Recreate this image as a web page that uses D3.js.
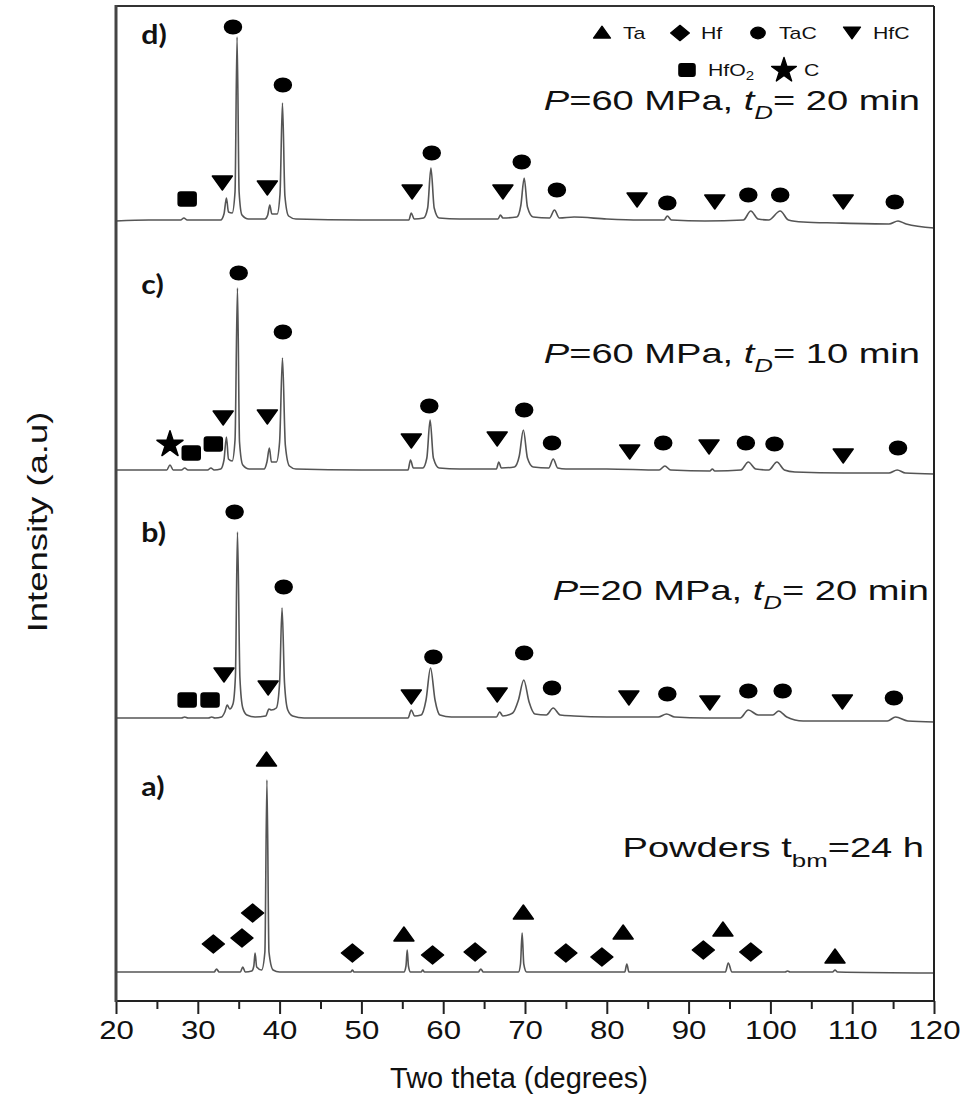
<!DOCTYPE html>
<html>
<head>
<meta charset="utf-8">
<script src="https://cdn.jsdelivr.net/npm/d3@7"></script>
<style>
  body { margin: 0; background: #fff; }
  svg { display: block; }
  text { font-family: "Liberation Sans", Arial, sans-serif; fill: #111; white-space: pre; }
</style>
</head>
<body>
<div id="chart"></div>
<script>
// x axis ticks
var xTicks = [20, 30, 40, 50, 60, 70, 80, 90, 100, 110, 120];
var xMinor = [25, 35, 45, 55, 65, 75, 85, 95, 105, 115];

// one pattern per panel, bottom to top: a, b, c, d
var panelNames = ["a)", "b)", "c)", "d)"];
var panelOffsets = [29, 283, 531, 781];

// [2theta, intensity above the panel baseline]
var patternA = [[20,0],[32.0,0],[32.3,3],[32.6,0],[35.2,0],[35.5,5],[35.8,0],[36.6,1],[36.85,6],[37.0,19],[37.2,5],
  [37.8,2],[38.2,20],[38.45,192],[38.7,20],[39.2,2],[40,0],[48.7,0],[48.9,2],[49.1,0],[55.2,0],[55.45,6],[55.6,22],
  [55.75,6],[56.0,0],[57.3,0],[57.5,2],[57.7,0],[64.3,0],[64.6,3],[64.9,0],[69.2,0],[69.45,8],[69.65,39],[69.85,8],
  [70.2,0],[82.2,0],[82.45,8],[82.7,0],[94.5,0],[94.85,9],[95.3,0],[101.8,0],[102.1,1],[102.4,0],[107.6,0],
  [107.9,2],[108.2,0],[120,-1]];

var patternB = [[20,0],[28.0,0],[28.4,1],[28.8,0],[31.3,0],[31.7,1],[32.1,0],[32.9,1],[33.3,6],[33.6,13],[33.9,9],
  [34.3,14],[34.6,42],[34.85,186],[35.15,40],[35.5,10],[36.0,3],[37,1],[38.3,2],[38.7,9],[39.0,8],[39.6,10],[40.0,35],
  [40.3,110],[40.6,35],[41.0,8],[41.6,2],[43,0],[50,0],[55.7,0],[56.1,8],[56.5,2],[57.3,3],[57.9,18],[58.45,50],
  [59.0,18],[59.6,3],[61,1],[66.5,1],[66.9,6],[67.3,2],[68.5,5],[69.2,18],[69.85,38],[70.5,16],[71.2,4],[72.6,3],
  [73.45,10],[74.3,3],[76,2],[80,1],[86.3,1],[87.3,4],[88.3,1],[92,0],[96.3,0],[97.3,8],[98.5,3],[100.3,3],[101.0,7],
  [102.0,1],[104,-3],[110,-3],[114.3,-3],[115.3,1],[116.8,-3],[120,-4]];

var patternC = [[20,0],[26.2,0],[26.6,5],[27.0,0],[28.0,0],[28.4,2],[28.8,0],[31.2,0],[31.6,2],[32.0,0],[32.8,1],
  [33.2,10],[33.5,33],[33.75,11],[34.2,9],[34.55,30],[34.85,182],[35.1,28],[35.5,5],[36.3,1],[38.1,1],[38.45,8],
  [38.75,22],[39.0,8],[39.6,8],[40.0,28],[40.35,112],[40.7,25],[41.2,4],[42,1],[50,0],[55.7,0],[56.0,10],[56.35,2],
  [57.5,2],[58.0,12],[58.4,50],[58.8,12],[59.5,2],[62,1],[66.5,1],[66.8,8],[67.1,2],[68.7,3],[69.3,14],[69.8,40],
  [70.3,12],[71.0,3],[72.9,2],[73.45,11],[74.0,2],[75,1],[80,1],[86.4,0],[87.1,4],[87.8,0],[92.6,-1],[92.9,1],
  [93.2,-1],[96.4,0],[97.3,8],[98.2,1],[99.8,0],[100.8,8],[101.7,0],[103,-2],[109,-3],[114.5,-3],[115.5,0],
  [116.5,-3],[120,-4]];

var patternD = [[20,-1],[24,0],[27.9,0],[28.3,2],[28.7,0],[32.8,0],[33.2,6],[33.5,22],[33.75,8],[34.2,7],[34.55,28],
  [34.8,183],[35.05,28],[35.4,5],[36.2,1],[38.2,1],[38.55,5],[38.8,15],[39.05,6],[39.7,6],[40.05,26],[40.35,117],
  [40.65,24],[41.1,4],[42,1],[50,0],[55.8,0],[56.1,7],[56.45,1],[57.6,2],[58.1,12],[58.5,52],[58.9,12],[59.5,2],
  [62,1],[66.7,1],[67.0,5],[67.3,2],[69.0,3],[69.5,15],[69.9,42],[70.3,13],[71.0,3],[73.0,2],[73.6,10],[74.2,2],
  [76,3],[80,1],[84,0],[87.0,0],[87.4,4],[87.9,0],[92,-1],[96.7,0],[97.6,9],[98.5,1],[99.8,0],[101.2,9],[102.2,0],
  [104,-2],[108,-3],[114.5,-4],[115.6,-1],[116.6,-4],[120,-8]];

// phase markers: [phase, 2theta, height above baseline]
var markersA = [["Ta",38.4,212],["Hf",31.9,28],["Hf",35.4,34],["Hf",36.7,59],["Hf",48.9,19],["Ta",55.2,37],
  ["Hf",58.7,17],["Hf",63.9,20],["Ta",69.8,59],["Hf",75.0,19],["Hf",79.4,15],["Ta",82.0,39],["Hf",91.8,22],
  ["Ta",94.2,42],["Hf",97.6,20],["Ta",107.9,15]];
var markersB = [["TaC",34.5,206],["TaC",40.5,131],["HfC",33.2,43],["HfC",38.6,30],["HfO2",28.7,18],["HfO2",31.5,18],
  ["HfC",56.1,21],["TaC",58.8,61],["HfC",66.6,23],["TaC",69.9,65],["TaC",73.3,30],["HfC",82.7,20],["TaC",87.4,24],
  ["HfC",92.6,15],["TaC",97.3,27],["TaC",101.5,27],["HfC",108.8,16],["TaC",115.1,20]];
var markersC = [["TaC",35.0,197],["TaC",40.4,138],["HfC",33.1,52],["HfC",38.5,53],["C",26.6,27],["HfO2",29.2,17],
  ["HfO2",31.9,26],["HfC",56.1,29],["TaC",58.3,64],["HfC",66.6,31],["TaC",69.9,60],["TaC",73.3,27],["HfC",82.8,18],
  ["TaC",86.9,27],["HfC",92.5,23],["TaC",97.0,27],["TaC",100.5,26],["HfC",108.9,14],["TaC",115.6,22]];
var markersD = [["TaC",34.3,193],["TaC",40.4,135],["HfC",33.0,37],["HfC",38.5,32],["HfO2",28.7,21],["HfC",56.2,28],
  ["TaC",58.6,67],["HfC",67.3,28],["TaC",69.6,58],["TaC",73.9,30],["HfC",83.7,20],["TaC",87.4,17],["HfC",93.2,18],
  ["TaC",97.3,25],["TaC",101.2,25],["HfC",108.9,18],["TaC",115.2,18]];

var patterns = [patternA, patternB, patternC, patternD];
var markerSets = [markersA, markersB, markersC, markersD];

// legend entries
var legendRow1 = [["Ta","Ta"],["Hf","Hf"],["TaC","TaC"],["HfC","HfC"]];
var legendRow2 = [["HfO2","HfO"],["C","C"]];

(function(){
  var W = 973, H = 1098;
  var margin = {top: 6, left: 116, right: 39, bottom: 97},
      width = W - margin.left - margin.right,
      height = H - margin.top - margin.bottom;

  var svg = d3.select("#chart").append("svg")
      .attr("width", W).attr("height", H);
  var g = svg.append("g")
      .attr("transform", "translate(" + margin.left + "," + margin.top + ")");

  var x = d3.scaleLinear().domain([20, 120]).range([0, width]);
  var y = d3.scaleLinear().domain([0, height]).range([height, 0]);

  // marker glyphs
  var shapes = {
    Ta: function(s){ return s.append("path").attr("d", "M-10,6L0,-8L10,6Z"); },
    Hf: function(s){ return s.append("path").attr("d", "M-11,0L0,-9L11,0L0,9Z"); },
    TaC: function(s){ return s.append("ellipse").attr("rx", 8.5).attr("ry", 6.8); },
    HfC: function(s){ return s.append("path").attr("d", "M-10,-7L10,-7L0,7Z"); },
    HfO2: function(s){ return s.append("rect").attr("x", -9).attr("y", -7).attr("width", 18).attr("height", 14).attr("rx", 2.5); },
    C: function(s){ return s.append("path").attr("d", d3.symbol(d3.symbolStar, 210)()).attr("transform", "translate(0,1.5)"); }
  };
  function drawMarker(sel, type) {
    var m = sel.append("g").attr("class", "marker");
    shapes[type](m).attr("fill", "#000").attr("stroke", "#000")
      .attr("stroke-width", 1.5).attr("stroke-linejoin", "round");
    return m;
  }

  var line = d3.line()
      .x(function(d){ return x(d[0]); })
      .curve(d3.curveMonotoneX);

  patterns.forEach(function(p, i) {
    var off = panelOffsets[i];
    line.y(function(d){ return y(off + d[1]); });
    g.append("path")
      .datum(p)
      .attr("class", "pattern")
      .attr("fill", "none")
      .attr("stroke", "#555")
      .attr("stroke-width", 1.6)
      .attr("d", line);

    markerSets[i].forEach(function(m) {
      var mk = drawMarker(g, m[0]);
      mk.attr("transform", "translate(" + x(m[1]) + "," + y(off + m[2]) + ")");
    });

    g.append("text")
      .attr("transform", "translate(" + x(23.1) + "," + y(off + 176) + ") scale(1.12,1)")
      .style("font-family", "Lato, 'Open Sans', sans-serif")
      .style("font-weight", "bold")
      .style("font-size", "27px")
      .text(panelNames[i]);
  });

  // condition labels
  function stretchText(px, py, sx) {
    return svg.append("text")
      .attr("transform", "translate(" + px + "," + py + ") scale(" + sx + ",1)")
      .attr("text-anchor", "end")
      .style("font-size", "28px");
  }
  var t;
  t = stretchText(920, 110, 1.36);
  t.append("tspan").style("font-style", "italic").text("P");
  t.append("tspan").text("=60 MPa, ");
  t.append("tspan").style("font-style", "italic").text("t");
  t.append("tspan").style("font-style", "italic").style("font-size", "19px").attr("dy", 9).text("D");
  t.append("tspan").attr("dy", -9).text("= 20 min");

  t = stretchText(920, 363, 1.36);
  t.append("tspan").style("font-style", "italic").text("P");
  t.append("tspan").text("=60 MPa, ");
  t.append("tspan").style("font-style", "italic").text("t");
  t.append("tspan").style("font-style", "italic").style("font-size", "19px").attr("dy", 9).text("D");
  t.append("tspan").attr("dy", -9).text("= 10 min");

  t = stretchText(929, 600, 1.36);
  t.append("tspan").style("font-style", "italic").text("P");
  t.append("tspan").text("=20 MPa, ");
  t.append("tspan").style("font-style", "italic").text("t");
  t.append("tspan").style("font-style", "italic").style("font-size", "19px").attr("dy", 9).text("D");
  t.append("tspan").attr("dy", -9).text("= 20 min");

  t = stretchText(924, 857, 1.36);
  t.append("tspan").text("Powders t");
  t.append("tspan").style("font-size", "19px").attr("dy", 10).text("bm");
  t.append("tspan").attr("dy", -10).text("=24 h");

  // legend
  var lg = svg.append("g").attr("class", "legend");
  var row1x = [602, 680, 758, 852];
  legendRow1.forEach(function(d, i) {
    drawMarker(lg, d[0]).attr("transform", "translate(" + row1x[i] + ",33) scale(0.85)");
    lg.append("text")
      .attr("transform", "translate(" + (row1x[i] + 21) + ",39) scale(1.25,1)")
      .style("font-size", "17px")
      .text(d[1]);
  });
  drawMarker(lg, legendRow2[0][0]).attr("transform", "translate(687,70) scale(0.9)");
  var t2 = lg.append("text")
      .attr("transform", "translate(708,76) scale(1.25,1)")
      .style("font-size", "17px");
  t2.append("tspan").text(legendRow2[0][1]);
  t2.append("tspan").style("font-size", "12px").attr("dy", 4).text("2");
  drawMarker(lg, legendRow2[1][0]).attr("transform", "translate(784,69) scale(0.95)");
  lg.append("text")
    .attr("transform", "translate(804,76) scale(1.25,1)")
    .style("font-size", "17px")
    .text(legendRow2[1][1]);

  // axes
  var xAxis = d3.axisBottom(x).tickValues(xTicks).tickSize(13).tickSizeOuter(0).tickPadding(7);
  var ax = g.append("g").attr("transform", "translate(0," + height + ")").call(xAxis);
  ax.attr("font-size", null).attr("font-family", null);
  ax.select(".domain").remove();
  ax.selectAll("line").attr("stroke", "#222").attr("stroke-width", 2);
  ax.selectAll("text")
    .attr("font-size", 26)
    .style("font-size", "26px")
    .attr("transform", "scale(1.2,1)")
    .attr("fill", "#111");

  var xAxisMinor = d3.axisBottom(x).tickValues(xMinor).tickSize(8).tickSizeOuter(0).tickFormat("");
  var axm = g.append("g").attr("transform", "translate(0," + height + ")").call(xAxisMinor);
  axm.select(".domain").remove();
  axm.selectAll("line").attr("stroke", "#222").attr("stroke-width", 2);

  // frame
  g.append("line").attr("x1", 0).attr("x2", width).attr("y1", 0).attr("y2", 0).attr("stroke", "#333").attr("stroke-width", 2);
  g.append("line").attr("x1", width).attr("x2", width).attr("y1", 0).attr("y2", height).attr("stroke", "#222").attr("stroke-width", 2);
  g.append("line").attr("x1", 0).attr("x2", width).attr("y1", height).attr("y2", height).attr("stroke", "#222").attr("stroke-width", 2);
  g.append("line").attr("x1", 0).attr("x2", 0).attr("y1", -1).attr("y2", height + 1).attr("stroke", "#444").attr("stroke-width", 3);

  // axis titles
  svg.append("text")
    .attr("x", margin.left + width / 2 - 6).attr("y", 1088)
    .attr("text-anchor", "middle")
    .style("font-size", "29px")
    .text("Two theta (degrees)");

  svg.append("text")
    .attr("transform", "translate(47,522) rotate(-90) scale(1.35,1)")
    .attr("text-anchor", "middle")
    .style("font-size", "27px")
    .text("Intensity (a.u)");
})();
</script>
</body>
</html>
